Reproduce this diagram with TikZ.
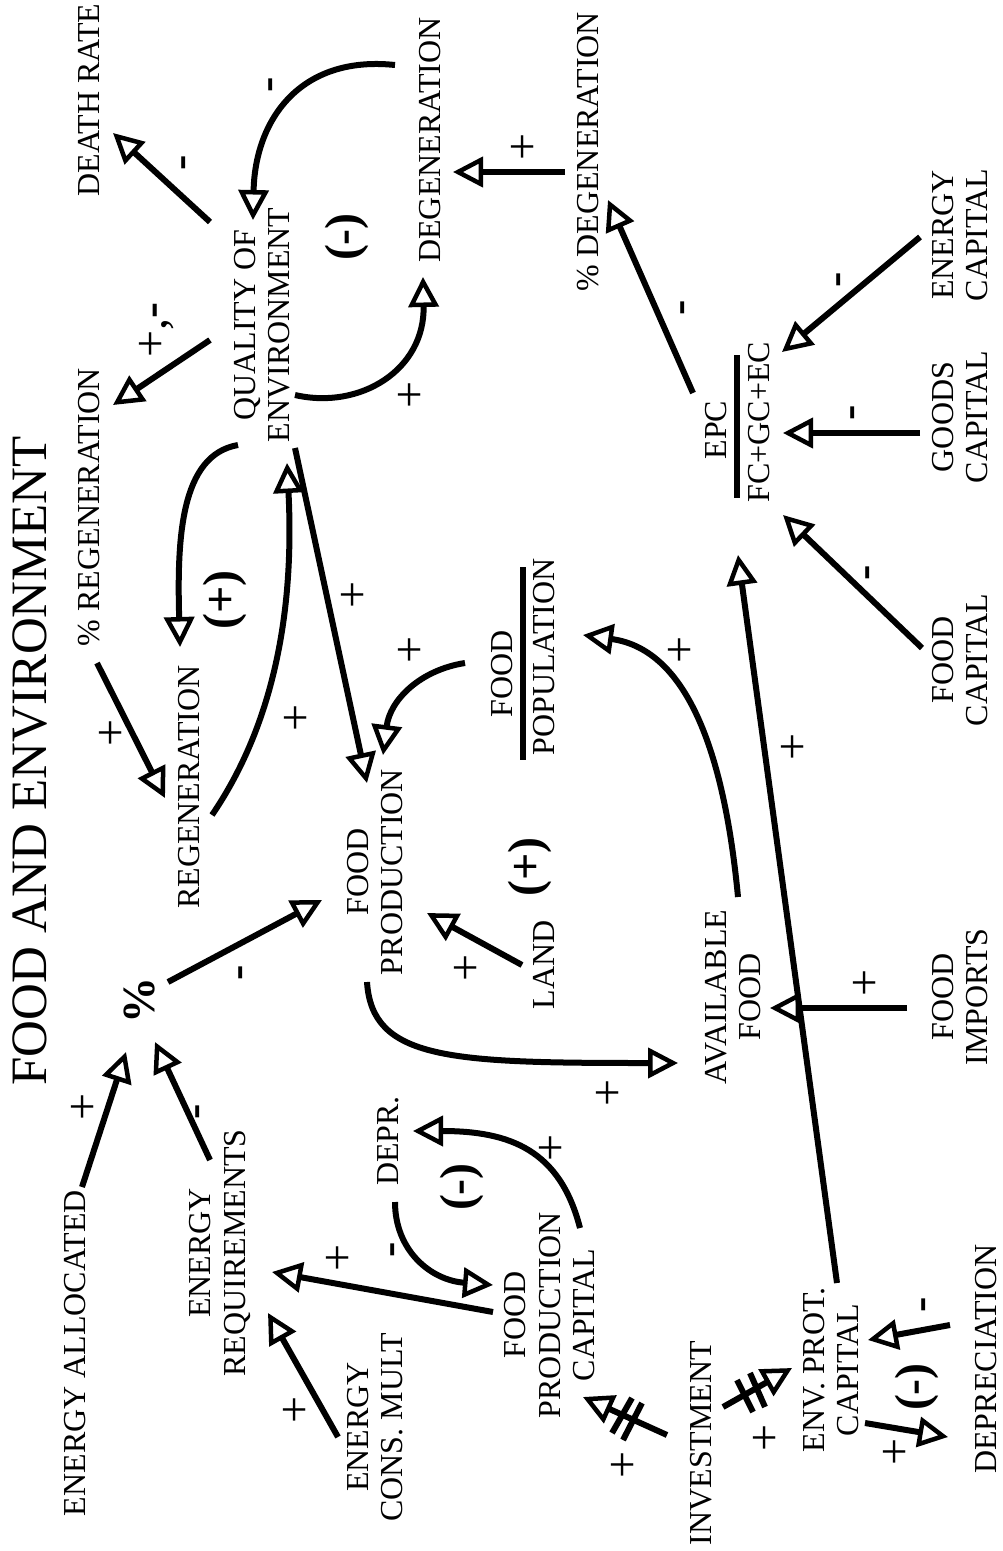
\documentclass[tikz,border=0pt]{standalone}
\usepackage{fontspec}
\setmainfont{Liberation Serif}
\usetikzlibrary{arrows.meta,calc}
\begin{document}
\begin{tikzpicture}[x=1pt,y=-1pt,
  lbl/.style={rotate=90, inner sep=0pt, align=center, font=\fontsize{32}{34.5}\selectfont},
  psign/.style={rotate=90, inner sep=0pt, font=\fontsize{48}{48}\selectfont},
  msign/.style={rotate=90, inner sep=0pt, font=\fontsize{46}{46}\selectfont\bfseries},
  loopsign/.style={rotate=90, inner sep=0pt, font=\fontsize{48}{48}\selectfont\bfseries},
  conn/.style={line width=6pt, -{Triangle[open,length=30pt,width=30pt,line width=4.5pt]}},
  stroke/.style={line width=6pt},
  fracbar/.style={line width=6.5pt}]
\useasboundingbox (0,0) rectangle (1002,1551);

% ---- nodes ----
\node[lbl, font=\fontsize{51}{55}\selectfont] (title) at (30,761) {FOOD AND ENVIRONMENT};
\node[lbl] (deathrate) at (89,100) {DEATH RATE};
\node[lbl] (pregen) at (89,507) {\% REGENERATION};
\node[lbl] (quality) at (262,325) {QUALITY OF\\ENVIRONMENT};
\node[lbl] (degen) at (430,140) {DEGENERATION};
\node[lbl] (pdegen) at (588,152) {\% DEGENERATION};
\node[lbl] (regen) at (189,787) {REGENERATION};
\node[lbl] (foodprod) at (375,872) {FOOD\\PRODUCTION};
\node[rotate=90, inner sep=0pt, font=\fontsize{46}{46}\selectfont\bfseries] (pct) at (140,1000) {\%};
\node[lbl] (land) at (544,965) {LAND};
\node[lbl] (fpnum) at (502,674) {FOOD};
\node[lbl] (fpden) at (544,657) {POPULATION};
\node[lbl] (epcnum) at (716,430) {EPC};
\node[lbl] (epcden) at (759,422) {FC+GC+EC};
\node[lbl] (energycap) at (960,235) {ENERGY\\CAPITAL};
\node[lbl] (goodscap) at (960,417) {GOODS\\CAPITAL};
\node[lbl] (foodcap) at (960,660) {FOOD\\CAPITAL};
\node[lbl] (availfood) at (733,997) {AVAILABLE\\FOOD};
\node[lbl] (foodimp) at (960,997) {FOOD\\IMPORTS};
\node[lbl] (energyalloc) at (75,1353) {ENERGY ALLOCATED};
\node[lbl] (energyreq) at (220,1253) {ENERGY\\REQUIREMENTS};
\node[lbl] (depr) at (388,1141) {DEPR.};
\node[lbl] (energycons) at (375,1427) {ENERGY\\CONS. MULT};
\node[lbl] (fpc) at (550,1315) {FOOD\\PRODUCTION\\CAPITAL};
\node[lbl] (invest) at (701,1443) {INVESTMENT};
\node[lbl] (envprot) at (831,1370) {ENV. PROT.\\CAPITAL};
\node[lbl] (deprec) at (986,1359) {DEPRECIATION};

% fraction bars
\draw[fracbar] ($(fpden)+(-21,-90)$) -- ($(fpden)+(-21,103)$);
\draw[fracbar] ($(epcden)+(-22,-67)$) -- ($(epcden)+(-22,76)$);

% loop markers
\node[loopsign] (loopa) at (347,237) {(-)};
\node[loopsign] (loopb) at (225,600) {(+)};
\node[loopsign] (loopc) at (530,867) {(+)};
\node[loopsign] (loopd) at (462,1187) {(-)};
\node[loopsign] (loope) at (917,1387) {(-)};

% ---- connectors ----
\draw[conn] ($(quality)+(-52,-103)$) -- ($(deathrate)+(24,33)$);
\draw[conn] ($(degen)+(-35,-75)$) .. controls +(-95,-10) and +(2,-100) .. ($(quality)+(-9,-105)$);
\draw[conn] ($(quality)+(33,70)$) .. controls +(65,15) and +(2,93) .. ($(degen)+(-7,137)$);
\draw[conn] ($(quality)+(-52,15)$) -- ($(pregen)+(24,-102)$);
\draw[conn] ($(quality)+(-24,120)$) .. controls +(-58,10) and +(-3,-107) .. ($(regen)+(-9,-140)$);
\draw[conn] ($(regen)+(23,28)$) .. controls +(58,-85) and +(8,157) .. ($(quality)+(25,138)$);
\draw[conn] ($(quality)+(33,123)$) -- ($(foodprod)+(-8,-89)$);
\draw[conn] ($(fpnum)+(-37,-11)$) .. controls +(-45,7) and +(7,-55) .. ($(foodprod)+(8,-117)$);
\draw[conn] ($(pregen)+(8,156)$) -- ($(regen)+(-24,11)$);
\draw[conn] ($(pct)+(28,-18)$) -- ($(foodprod)+(-53,28)$);
\draw[conn] ($(land)+(-22,0)$) -- ($(foodprod)+(52,41)$);
\draw[conn] ($(foodprod)+(-8,110)$) .. controls +(5,78) and +(-228,0) .. ($(availfood)+(-55,66)$);
\draw[conn] ($(availfood)+(5,-100)$) .. controls +(-13,-137) and +(107,15) .. ($(fpden)+(39,-22)$);
\draw[conn] ($(foodimp)+(-53,11)$) -- ($(availfood)+(37,11)$);
\draw[conn] ($(envprot)+(6,-87)$) -- ($(epcden)+(-21,133)$);
\draw[conn] ($(epcnum)+(-23,-37)$) -- ($(pdegen)+(20,48)$);
\draw[conn] ($(pdegen)+(-23,20)$) -- ($(degen)+(23,32)$);
\draw[conn] ($(energycap)+(-40,2)$) -- ($(epcden)+(23,-70)$);
\draw[conn] ($(goodscap)+(-40,16)$) -- ($(epcden)+(24,11)$);
\draw[conn] ($(foodcap)+(-38,-12)$) -- ($(epcden)+(24,93)$);
\draw[conn] ($(energyalloc)+(7,-166)$) -- ($(pct)+(-14,52)$);
\draw[conn] ($(energyreq)+(-10,-93)$) -- ($(pct)+(15,42)$);
\draw[conn] ($(fpc)+(30,-87)$) .. controls +(-20,-78) and +(97,0) .. ($(depr)+(25,-10)$);
\draw[conn] ($(depr)+(7,61)$) .. controls +(0,48) and +(-63,-5) .. ($(fpc)+(-57,-30)$);
\draw[conn] ($(fpc)+(-57,-3)$) -- ($(energyreq)+(52,19)$);
\draw[conn] ($(energycons)+(-37,10)$) -- ($(energyreq)+(48,60)$);
\draw[conn] ($(invest)+(-34,-8)$) -- ($(fpc)+(33,82)$);
\draw[conn] ($(invest)+(22,-36)$) -- ($(envprot)+(-39,-2)$);
\draw[conn] ($(deprec)+(-36,-34)$) -- ($(envprot)+(37,-30)$);
\draw[conn] ($(envprot)+(34,53)$) -- ($(deprec)+(-38,78)$);

% delay marks
\draw[stroke] (612,1433) -- (632,1398);
\draw[stroke] (623,1440) -- (642,1403);
\draw[stroke] (737,1380) -- (753,1412);
\draw[stroke] (750,1373) -- (765,1407);

% ---- signs ----
\node[msign] (s1) at (188,163) {-};
\node[msign] (s2) at (275,85) {-};
\node[psign] (s3) at (412,395) {+};
\node[psign] (s4) at (157,330) {+,\textbf{-}};
\node[psign] (s5) at (298,718) {+};
\node[psign] (s6) at (355,595) {+};
\node[psign] (s7) at (412,650) {+};
\node[psign] (s8) at (113,733) {+};
\node[msign] (s9) at (245,973) {-};
\node[psign] (s10) at (468,968) {+};
\node[psign] (s11) at (610,1093) {+};
\node[psign] (s12) at (682,650) {+};
\node[psign] (s13) at (867,983) {+};
\node[psign] (s14) at (795,747) {+};
\node[msign] (s15) at (687,308) {-};
\node[psign] (s16) at (525,147) {+};
\node[msign] (s17) at (843,280) {-};
\node[msign] (s18) at (857,413) {-};
\node[msign] (s19) at (872,573) {-};
\node[psign] (s20) at (85,1107) {+};
\node[msign] (s21) at (202,1112) {-};
\node[psign] (s22) at (553,1148) {+};
\node[msign] (s23) at (397,1250) {-};
\node[psign] (s24) at (340,1258) {+};
\node[psign] (s25) at (297,1410) {+};
\node[psign] (s26) at (625,1465) {+};
\node[psign] (s27) at (767,1438) {+};
\node[msign] (s28) at (928,1305) {-};
\node[psign] (s29) at (897,1452) {+};
\end{tikzpicture}
\end{document}
